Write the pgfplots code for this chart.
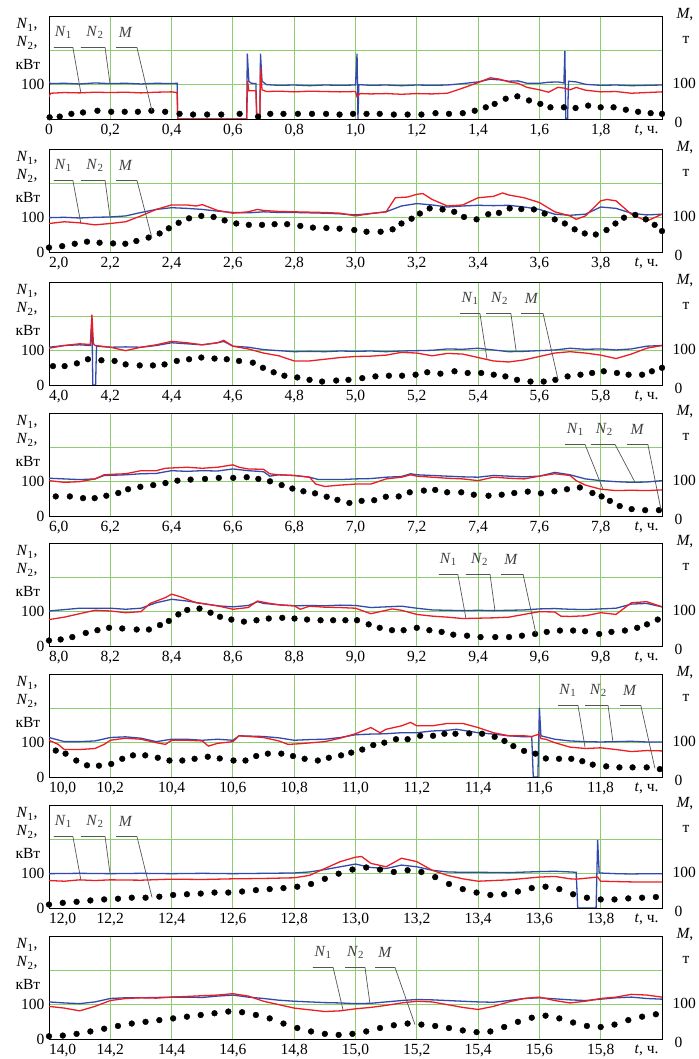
\documentclass[border=0pt]{standalone}
\usepackage{fontspec}
\setmainfont{Liberation Serif}
\usepackage{pgfplots}
\pgfplotsset{compat=1.18}
\definecolor{gridg}{RGB}{140,205,110}
\definecolor{nred}{RGB}{235,30,35}
\definecolor{nblue}{RGB}{50,75,170}
\definecolor{lead}{RGB}{85,85,85}
\newcommand\fs{\fontsize{15.5}{18}\selectfont}
\pgfplotsset{
 panel/.style={
  width=613pt,height=103pt,scale only axis,
  ymin=0,ymax=300,ytick={0,100,200},yticklabels={0,100,{}},
  grid=major, major grid style={gridg,line width=0.9pt},
  major tick length=0pt,
  axis line style={line width=0.8pt},
  tick label style={font=\fs},
  yticklabel style={xshift=-1pt},
  xticklabel style={yshift=-2pt},
  anchor=south west, clip mode=individual,
 },
 n1/.style={nred,line width=1.3pt},
 n2/.style={nblue,line width=1.3pt},
 mm/.style={only marks,mark=*,mark size=2.9pt,black},
}
\newcommand\sidetext{%
 \node[anchor=west,font=\fs,xshift=-36pt,yshift=-9pt] at (rel axis cs:0,1) {\textit{N}\textsubscript{1},};
 \node[anchor=west,font=\fs,xshift=-36pt,yshift=-27pt] at (rel axis cs:0,1) {\textit{N}\textsubscript{2},};
 \node[anchor=west,font=\fs,xshift=-37pt,yshift=-48pt] at (rel axis cs:0,1) {кВт};
 \node[anchor=west,font=\fs,xshift=11pt,yshift=1pt] at (rel axis cs:1,1) {\textit{M},};
 \node[anchor=west,font=\fs,xshift=17pt,yshift=-24pt] at (rel axis cs:1,1) {т};
 \node[anchor=west,font=\fs,xshift=7pt,yshift=1pt] at (rel axis cs:1,0.3333) {100};
 \node[anchor=west,font=\fs,xshift=9pt,yshift=-3pt] at (rel axis cs:1,0) {0};
 \node[anchor=north east,font=\fs,xshift=0pt,yshift=-2pt] at (rel axis cs:1,0) {\textit{t}, ч.};
}
% #1 hstart #2 hend #3 endx #4 endy #5 text x #6 label
\newcommand\callout[6]{%
 \draw[lead,line width=0.7pt] (axis cs:#1,208) -- (axis cs:#2,208) -- (axis cs:#3,#4);
 \node[font=\fs,text=black!75] at (axis cs:#5,252) {#6};
}
\begin{document}
\begin{tikzpicture}
\path[use as bounding box] (0,0) rectangle (698pt,1059pt);

% ---------------- Panel 1 ----------------
\begin{axis}[panel, at={(49pt,940pt)}, xmin=0, xmax=2, yticklabels={{},100,{}},
 xtick={0,0.2,0.4,0.6,0.8,1.0,1.2,1.4,1.6,1.8},
 xticklabels={0,{0,2},{0,4},{0,6},{0,8},{1,0},{1,2},{1,4},{1,6},{1,8}}]
\addplot[n2] coordinates {(0,108)(0.005,103)(0.05,104)(0.1,102)(0.15,105)(0.2,103)(0.25,104)(0.3,102)(0.35,104)(0.4,103)(0.418,104)(0.42,0)(0.645,0)(0.647,190)(0.652,110)(0.66,104)(0.675,103)(0.678,0)(0.688,0)(0.69,190)(0.695,110)(0.71,100)(0.75,98)(0.8,99)(0.85,97)(0.9,99)(0.95,98)(1.0,99)(1.005,190)(1.008,0)(1.011,100)(1.05,98)(1.1,99)(1.15,97)(1.2,99)(1.25,98)(1.3,99)(1.35,103)(1.4,108)(1.44,116)(1.47,114)(1.5,110)(1.53,111)(1.56,104)(1.6,104)(1.63,107)(1.66,108)(1.68,105)(1.683,198)(1.686,0)(1.692,0)(1.695,110)(1.72,108)(1.75,101)(1.8,98)(1.85,99)(1.9,97)(1.95,98)(2.0,99)};
\addplot[n1] coordinates {(0,65)(0.005,75)(0.05,77)(0.1,76)(0.15,78)(0.2,77)(0.25,78)(0.3,76)(0.35,78)(0.4,79)(0.418,77)(0.42,0)(0.645,0)(0.648,110)(0.652,82)(0.665,82)(0.675,82)(0.678,0)(0.688,0)(0.69,150)(0.695,85)(0.71,80)(0.75,81)(0.8,79)(0.85,81)(0.9,80)(0.95,79)(1.0,80)(1.005,65)(1.015,74)(1.05,73)(1.1,74)(1.15,72)(1.2,74)(1.25,73)(1.3,75)(1.35,90)(1.4,106)(1.44,120)(1.47,116)(1.5,108)(1.53,104)(1.56,92)(1.6,85)(1.63,78)(1.66,92)(1.68,90)(1.7,85)(1.72,92)(1.75,84)(1.8,79)(1.85,80)(1.9,75)(1.95,77)(2.0,79)};
\addplot[mm] coordinates {(0.002,5)(0.035,7)(0.073,15)(0.111,19)(0.158,24)(0.203,21)(0.247,21)(0.29,21)(0.334,24)(0.379,21)(0.426,15)(0.47,13)(0.516,13)(0.562,13)(0.622,15)(0.682,7)(0.722,15)(0.765,15)(0.812,15)(0.858,15)(0.904,15)(0.948,13)(0.992,15)(1.036,15)(1.079,15)(1.125,13)(1.17,13)(1.215,13)(1.261,17)(1.305,15)(1.35,17)(1.389,24)(1.425,34)(1.454,44)(1.49,59)(1.528,66)(1.566,54)(1.603,44)(1.636,34)(1.68,34)(1.718,32)(1.759,39)(1.8,34)(1.842,34)(1.882,27)(1.922,21)(1.963,17)(2.0,15)};
\sidetext
\callout{0.016}{0.078}{0.104}{76}{0.047}{\textit{N}\textsubscript{1}}
\callout{0.104}{0.183}{0.199}{103}{0.150}{\textit{N}\textsubscript{2}}
\callout{0.219}{0.287}{0.336}{24}{0.250}{\textit{M}}
\end{axis}

% ---------------- Panel 2 ----------------
\begin{axis}[panel, at={(49pt,807pt)}, xmin=2, xmax=4,
 xtick={2,2.2,2.4,2.6,2.8,3.0,3.2,3.4,3.6,3.8},
 xticklabels={{\rlap{2,0}},{2,2},{2,4},{2,6},{2,8},{3,0},{3,2},{3,4},{3,6},{3,8}}]
\addplot[n2] coordinates {(2.0,100)(2.05,101)(2.1,99)(2.15,101)(2.2,102)(2.25,105)(2.3,115)(2.35,124)(2.4,129)(2.45,127)(2.5,124)(2.55,119)(2.6,115)(2.65,114)(2.7,117)(2.75,115)(2.8,115)(2.85,114)(2.9,113)(2.95,111)(3.0,108)(3.05,112)(3.1,117)(3.15,134)(3.2,141)(3.25,137)(3.3,131)(3.35,134)(3.4,136)(3.45,135)(3.5,136)(3.55,131)(3.6,124)(3.65,110)(3.7,107)(3.75,110)(3.8,131)(3.85,127)(3.9,113)(3.95,108)(4.0,110)};
\addplot[n1] coordinates {(2.0,83)(2.05,88)(2.1,85)(2.15,79)(2.2,83)(2.25,88)(2.3,105)(2.35,124)(2.4,137)(2.45,137)(2.48,134)(2.5,138)(2.55,121)(2.6,113)(2.65,117)(2.68,124)(2.7,121)(2.75,118)(2.8,117)(2.85,116)(2.9,115)(2.95,113)(3.0,105)(3.05,112)(3.1,117)(3.13,158)(3.17,160)(3.2,168)(3.22,170)(3.25,153)(3.3,134)(3.35,137)(3.4,158)(3.45,162)(3.48,172)(3.5,166)(3.55,158)(3.6,144)(3.65,117)(3.7,105)(3.72,95)(3.75,105)(3.8,149)(3.82,153)(3.85,149)(3.9,110)(3.95,90)(4.0,110)};
\addplot[mm] coordinates {(2.0,13)(2.043,17)(2.084,24)(2.124,30)(2.165,27)(2.209,25)(2.249,24)(2.285,32)(2.325,42)(2.361,54)(2.391,69)(2.423,85)(2.457,98)(2.497,105)(2.537,102)(2.573,92)(2.611,83)(2.652,79)(2.695,79)(2.736,81)(2.777,81)(2.82,76)(2.861,71)(2.905,70)(2.948,68)(2.996,64)(3.036,59)(3.082,59)(3.121,66)(3.15,83)(3.183,97)(3.21,112)(3.242,127)(3.284,124)(3.322,117)(3.354,102)(3.395,95)(3.433,110)(3.468,114)(3.503,127)(3.541,125)(3.582,124)(3.617,112)(3.65,95)(3.683,83)(3.715,66)(3.748,54)(3.784,51)(3.819,64)(3.848,83)(3.876,100)(3.913,108)(3.947,95)(3.976,79)(4.0,61)};
\sidetext
\callout{2.016}{2.078}{2.104}{83}{2.047}{\textit{N}\textsubscript{1}}
\callout{2.104}{2.183}{2.199}{102}{2.150}{\textit{N}\textsubscript{2}}
\callout{2.219}{2.287}{2.336}{40}{2.250}{\textit{M}}
\end{axis}

% ---------------- Panel 3 ----------------
\begin{axis}[panel, at={(49pt,674pt)}, xmin=4, xmax=6,
 xtick={4,4.2,4.4,4.6,4.8,5.0,5.2,5.4,5.6,5.8},
 xticklabels={{\rlap{4,0}},{4,2},{4,4},{4,6},{4,8},{5,0},{5,2},{5,4},{5,6},{5,8}}]
\addplot[n2] coordinates {(4.0,110)(4.05,115)(4.1,117)(4.135,115)(4.14,190)(4.143,0)(4.152,0)(4.155,113)(4.2,110)(4.25,111)(4.3,110)(4.35,115)(4.4,123)(4.45,120)(4.5,117)(4.55,123)(4.57,127)(4.6,113)(4.65,110)(4.7,103)(4.75,100)(4.8,97)(4.85,98)(4.9,97)(4.95,99)(5.0,98)(5.05,99)(5.1,97)(5.15,99)(5.2,100)(5.25,101)(5.3,105)(5.35,104)(5.4,107)(5.45,102)(5.5,97)(5.55,98)(5.6,100)(5.65,102)(5.7,107)(5.75,104)(5.8,105)(5.85,102)(5.9,105)(5.95,113)(6.0,115)};
\addplot[n1] coordinates {(4.0,107)(4.05,115)(4.1,120)(4.135,118)(4.14,205)(4.145,120)(4.15,115)(4.2,110)(4.25,100)(4.3,110)(4.35,117)(4.4,127)(4.45,123)(4.5,117)(4.55,123)(4.57,130)(4.6,113)(4.65,105)(4.7,93)(4.75,85)(4.8,70)(4.85,70)(4.9,75)(4.95,80)(5.0,83)(5.05,84)(5.1,87)(5.15,95)(5.2,93)(5.25,85)(5.3,92)(5.35,90)(5.4,80)(5.45,70)(5.5,67)(5.55,73)(5.6,83)(5.65,93)(5.7,97)(5.75,93)(5.8,87)(5.85,77)(5.9,90)(5.95,107)(6.0,115)};
\addplot[mm] coordinates {(4.013,55)(4.051,55)(4.091,63)(4.127,75)(4.171,72)(4.214,70)(4.25,60)(4.296,57)(4.339,57)(4.377,60)(4.417,70)(4.457,75)(4.497,80)(4.54,77)(4.58,75)(4.62,70)(4.665,65)(4.698,50)(4.733,37)(4.768,27)(4.81,22)(4.85,15)(4.891,10)(4.937,13)(4.977,15)(5.022,20)(5.065,25)(5.109,27)(5.152,27)(5.196,30)(5.234,37)(5.277,33)(5.323,40)(5.366,35)(5.41,35)(5.451,30)(5.489,25)(5.527,15)(5.571,10)(5.614,10)(5.652,15)(5.692,25)(5.734,30)(5.772,35)(5.81,40)(5.853,35)(5.891,30)(5.935,30)(5.967,40)(6.0,50)};
\sidetext
\callout{5.341}{5.406}{5.429}{75}{5.374}{\textit{N}\textsubscript{1}}
\callout{5.426}{5.507}{5.524}{100}{5.470}{\textit{N}\textsubscript{2}}
\callout{5.540}{5.612}{5.661}{15}{5.575}{\textit{M}}
\end{axis}

% ---------------- Panel 4 ----------------
\begin{axis}[panel, at={(49pt,543pt)}, xmin=6, xmax=8,
 xtick={6,6.2,6.4,6.6,6.8,7.0,7.2,7.4,7.6,7.8},
 xticklabels={{\rlap{6,0}},{6,2},{6,4},{6,6},{6,8},{7,0},{7,2},{7,4},{7,6},{7,8}}]
\addplot[n2] coordinates {(6.0,110)(6.05,108)(6.1,106)(6.15,108)(6.18,118)(6.22,119)(6.25,120)(6.3,123)(6.35,124)(6.4,132)(6.45,130)(6.5,132)(6.55,131)(6.6,137)(6.65,132)(6.7,129)(6.72,116)(6.75,120)(6.8,118)(6.85,113)(6.88,106)(6.95,106)(7.0,108)(7.05,109)(7.1,113)(7.15,115)(7.18,123)(7.2,120)(7.25,118)(7.3,116)(7.35,114)(7.4,113)(7.45,118)(7.5,116)(7.55,114)(7.6,116)(7.65,127)(7.7,120)(7.75,108)(7.8,103)(7.85,100)(7.9,98)(7.95,99)(8.0,103)};
\addplot[n1] coordinates {(6.0,103)(6.05,98)(6.1,100)(6.15,108)(6.18,120)(6.22,122)(6.25,123)(6.3,132)(6.35,132)(6.38,139)(6.45,142)(6.5,139)(6.55,142)(6.6,149)(6.62,142)(6.65,137)(6.7,136)(6.72,123)(6.75,120)(6.8,118)(6.85,113)(6.87,93)(6.9,86)(6.95,90)(7.0,93)(7.05,93)(7.1,108)(7.15,113)(7.18,120)(7.2,116)(7.25,113)(7.3,110)(7.35,108)(7.4,103)(7.45,113)(7.5,110)(7.55,108)(7.6,116)(7.65,123)(7.7,118)(7.72,103)(7.75,90)(7.8,78)(7.85,74)(7.9,75)(7.95,74)(8.0,76)};
\addplot[mm] coordinates {(6.022,57)(6.068,57)(6.111,52)(6.149,52)(6.187,59)(6.226,67)(6.258,78)(6.298,85)(6.34,90)(6.38,96)(6.419,103)(6.462,106)(6.509,108)(6.554,111)(6.601,111)(6.645,113)(6.683,108)(6.721,101)(6.759,90)(6.794,80)(6.83,72)(6.868,66)(6.906,56)(6.941,47)(6.98,38)(7.02,44)(7.061,46)(7.099,56)(7.141,57)(7.177,69)(7.223,74)(7.26,76)(7.299,69)(7.345,69)(7.386,62)(7.434,59)(7.477,62)(7.518,67)(7.562,71)(7.605,66)(7.649,72)(7.69,78)(7.732,83)(7.773,67)(7.803,57)(7.83,44)(7.862,29)(7.901,20)(7.945,17)(7.99,17)};
\sidetext
\callout{7.684}{7.749}{7.808}{77}{7.717}{\textit{N}\textsubscript{1}}
\callout{7.768}{7.847}{7.912}{98}{7.812}{\textit{N}\textsubscript{2}}
\callout{7.886}{7.954}{7.997}{17}{7.920}{\textit{M}}
\end{axis}

% ---------------- Panel 5 ----------------
\begin{axis}[panel, at={(49pt,413pt)}, xmin=8, xmax=10,
 xtick={8,8.2,8.4,8.6,8.8,9.0,9.2,9.4,9.6,9.8},
 xticklabels={{\rlap{8,0}},{8,2},{8,4},{8,6},{8,8},{9,0},{9,2},{9,4},{9,6},{9,8}}]
\addplot[n2] coordinates {(8.0,102)(8.05,106)(8.1,110)(8.15,110)(8.2,110)(8.25,107)(8.3,110)(8.35,126)(8.4,136)(8.45,131)(8.5,124)(8.55,117)(8.6,114)(8.65,118)(8.68,129)(8.7,124)(8.75,120)(8.8,117)(8.85,118)(8.9,117)(8.95,119)(9.0,118)(9.05,112)(9.1,114)(9.15,116)(9.2,110)(9.25,105)(9.3,104)(9.35,103)(9.4,104)(9.45,103)(9.5,104)(9.55,105)(9.6,108)(9.65,109)(9.7,107)(9.75,106)(9.8,108)(9.85,110)(9.9,122)(9.95,124)(10.0,114)};
\addplot[n1] coordinates {(8.0,77)(8.05,84)(8.1,94)(8.15,104)(8.2,102)(8.25,97)(8.3,100)(8.33,124)(8.38,141)(8.4,151)(8.43,143)(8.48,126)(8.55,117)(8.6,107)(8.65,112)(8.68,131)(8.72,124)(8.75,120)(8.8,117)(8.82,107)(8.85,116)(8.9,113)(8.95,112)(9.0,110)(9.05,94)(9.1,104)(9.12,108)(9.15,104)(9.2,92)(9.25,87)(9.3,84)(9.35,80)(9.4,81)(9.45,82)(9.5,84)(9.55,92)(9.6,100)(9.65,99)(9.67,87)(9.7,86)(9.75,88)(9.8,97)(9.85,92)(9.9,126)(9.95,129)(10.0,114)};
\addplot[mm] coordinates {(8.0,16)(8.038,19)(8.076,26)(8.12,38)(8.158,46)(8.196,53)(8.239,51)(8.286,48)(8.326,48)(8.362,61)(8.391,73)(8.422,92)(8.451,105)(8.491,109)(8.527,97)(8.558,85)(8.595,77)(8.636,71)(8.677,75)(8.717,80)(8.761,82)(8.801,80)(8.842,77)(8.886,75)(8.927,75)(8.967,75)(9.005,75)(9.043,63)(9.079,53)(9.119,46)(9.157,46)(9.2,53)(9.241,46)(9.281,41)(9.319,33)(9.364,30)(9.408,26)(9.456,26)(9.501,26)(9.543,30)(9.586,35)(9.624,41)(9.667,45)(9.71,45)(9.749,43)(9.795,35)(9.835,41)(9.879,45)(9.919,53)(9.951,63)(9.986,77)};
\sidetext
\callout{9.272}{9.334}{9.360}{82}{9.303}{\textit{N}\textsubscript{1}}
\callout{9.360}{9.439}{9.455}{103}{9.405}{\textit{N}\textsubscript{2}}
\callout{9.475}{9.547}{9.589}{35}{9.508}{\textit{M}}
\end{axis}

% ---------------- Panel 6 ----------------
\begin{axis}[panel, at={(49pt,282pt)}, xmin=10, xmax=12,
 xtick={10,10.2,10.4,10.6,10.8,11.0,11.2,11.4,11.6,11.8},
 xticklabels={{\rlap{10,0}},{10,2},{10,4},{10,6},{10,8},{11,0},{11,2},{11,4},{11,6},{11,8}}]
\addplot[n2] coordinates {(10.0,115)(10.05,103)(10.1,103)(10.15,105)(10.2,115)(10.25,117)(10.3,113)(10.35,103)(10.4,110)(10.45,110)(10.5,107)(10.55,110)(10.6,107)(10.62,120)(10.7,118)(10.75,114)(10.8,107)(10.85,109)(10.9,110)(10.95,115)(11.0,123)(11.05,125)(11.1,126)(11.15,129)(11.2,129)(11.25,134)(11.3,136)(11.33,139)(11.35,136)(11.4,129)(11.45,125)(11.5,120)(11.55,117)(11.575,117)(11.58,0)(11.595,0)(11.6,201)(11.605,120)(11.65,110)(11.7,105)(11.75,103)(11.8,102)(11.85,103)(11.9,104)(11.95,102)(12.0,102)};
\addplot[n1] coordinates {(10.0,107)(10.03,95)(10.05,80)(10.1,80)(10.15,83)(10.18,95)(10.2,107)(10.25,113)(10.3,110)(10.35,100)(10.38,95)(10.4,107)(10.45,107)(10.5,105)(10.52,90)(10.55,98)(10.6,103)(10.62,120)(10.7,115)(10.75,105)(10.78,95)(10.82,97)(10.9,103)(10.95,113)(11.0,126)(11.05,144)(11.08,129)(11.1,139)(11.15,149)(11.18,159)(11.2,149)(11.25,149)(11.3,156)(11.35,156)(11.4,144)(11.45,129)(11.5,120)(11.55,120)(11.575,118)(11.6,125)(11.605,112)(11.62,110)(11.65,100)(11.7,87)(11.75,83)(11.8,85)(11.85,80)(11.9,74)(11.95,77)(12.0,76)};
\addplot[mm] coordinates {(10.022,77)(10.054,68)(10.089,48)(10.124,34)(10.163,33)(10.203,38)(10.239,53)(10.274,63)(10.314,63)(10.355,56)(10.393,48)(10.435,48)(10.475,53)(10.518,59)(10.557,54)(10.602,48)(10.641,48)(10.676,61)(10.714,68)(10.758,68)(10.796,61)(10.834,53)(10.877,48)(10.913,56)(10.953,63)(10.986,71)(11.022,80)(11.058,93)(11.094,100)(11.132,110)(11.17,110)(11.211,120)(11.253,120)(11.29,126)(11.326,126)(11.371,127)(11.413,126)(11.454,117)(11.486,105)(11.515,90)(11.55,76)(11.587,68)(11.621,54)(11.664,53)(11.704,53)(11.74,46)(11.774,36)(11.818,31)(11.861,28)(11.904,28)(11.95,28)(11.993,23)};
\sidetext
\callout{11.661}{11.726}{11.749}{86}{11.693}{\textit{N}\textsubscript{1}}
\callout{11.749}{11.824}{11.840}{102}{11.792}{\textit{N}\textsubscript{2}}
\callout{11.863}{11.931}{11.977}{25}{11.895}{\textit{M}}
\end{axis}

% ---------------- Panel 7 ----------------
\begin{axis}[panel, at={(49pt,151pt)}, xmin=12, xmax=14,
 xtick={12,12.2,12.4,12.6,12.8,13.0,13.2,13.4,13.6,13.8},
 xticklabels={{\rlap{12,0}},{12,2},{12,4},{12,6},{12,8},{13,0},{13,2},{13,4},{13,6},{13,8}}]
\addplot[n2] coordinates {(12.0,100)(12.1,101)(12.2,100)(12.3,101)(12.4,100)(12.5,101)(12.6,100)(12.7,101)(12.8,102)(12.85,105)(12.9,112)(12.95,120)(13.0,128)(13.05,118)(13.1,115)(13.15,125)(13.2,120)(13.25,110)(13.3,105)(13.35,104)(13.4,104)(13.5,103)(13.6,106)(13.65,107)(13.7,105)(13.72,104)(13.725,0)(13.785,0)(13.79,198)(13.795,102)(13.85,100)(13.9,99)(13.95,100)(14.0,100)};
\addplot[n1] coordinates {(12.0,80)(12.05,78)(12.1,82)(12.15,80)(12.2,82)(12.3,81)(12.4,84)(12.5,83)(12.6,85)(12.7,86)(12.8,88)(12.85,95)(12.9,115)(12.95,135)(13.0,148)(13.02,150)(13.05,130)(13.1,120)(13.15,145)(13.2,135)(13.25,110)(13.3,95)(13.35,85)(13.4,78)(13.5,82)(13.6,90)(13.65,92)(13.7,85)(13.72,84)(13.79,90)(13.8,78)(13.9,76)(14.0,76)};
\addplot[mm] coordinates {(12.0,10)(12.045,15)(12.09,18)(12.135,22)(12.18,25)(12.225,27)(12.27,30)(12.315,30)(12.36,33)(12.405,38)(12.45,40)(12.495,42)(12.54,45)(12.585,45)(12.63,48)(12.675,52)(12.72,55)(12.765,58)(12.81,62)(12.855,70)(12.9,85)(12.945,100)(12.99,112)(13.035,118)(13.08,112)(13.125,105)(13.17,110)(13.215,105)(13.26,90)(13.305,70)(13.35,55)(13.395,45)(13.44,38)(13.485,40)(13.53,48)(13.575,58)(13.62,62)(13.665,55)(13.71,40)(13.755,30)(13.8,25)(13.845,25)(13.89,28)(13.935,30)(13.98,32)};
\sidetext
\callout{12.016}{12.078}{12.104}{82}{12.047}{\textit{N}\textsubscript{1}}
\callout{12.104}{12.183}{12.199}{101}{12.150}{\textit{N}\textsubscript{2}}
\callout{12.219}{12.287}{12.336}{31}{12.250}{\textit{M}}
\end{axis}

% ---------------- Panel 8 ----------------
\begin{axis}[panel, at={(49pt,20pt)}, xmin=14, xmax=16,
 xtick={14,14.2,14.4,14.6,14.8,15.0,15.2,15.4,15.6,15.8},
 xticklabels={{\rlap{14,0}},{14,2},{14,4},{14,6},{14,8},{15,0},{15,2},{15,4},{15,6},{15,8}}]
\addplot[n2] coordinates {(14.0,108)(14.05,105)(14.1,103)(14.15,108)(14.2,118)(14.25,120)(14.3,120)(14.35,121)(14.4,122)(14.45,122)(14.5,121)(14.55,125)(14.6,128)(14.65,122)(14.7,118)(14.75,113)(14.8,110)(14.85,108)(14.9,106)(14.95,105)(15.0,103)(15.05,104)(15.1,108)(15.15,112)(15.2,115)(15.25,114)(15.3,112)(15.35,110)(15.4,108)(15.45,107)(15.5,112)(15.55,118)(15.6,120)(15.65,117)(15.7,114)(15.75,112)(15.8,116)(15.85,120)(15.9,122)(15.95,118)(16.0,116)};
\addplot[n1] coordinates {(14.0,95)(14.05,90)(14.1,82)(14.15,95)(14.2,112)(14.25,118)(14.3,120)(14.35,119)(14.4,122)(14.45,124)(14.5,126)(14.55,128)(14.6,132)(14.65,125)(14.7,110)(14.75,100)(14.8,90)(14.85,85)(14.9,80)(14.95,82)(15.0,88)(15.05,92)(15.1,98)(15.15,105)(15.2,110)(15.25,108)(15.3,100)(15.35,92)(15.4,86)(15.45,95)(15.5,108)(15.55,118)(15.6,122)(15.65,112)(15.7,105)(15.75,110)(15.8,118)(15.85,122)(15.9,130)(15.95,128)(16.0,122)};
\addplot[mm] coordinates {(14.0,8)(14.045,10)(14.09,15)(14.135,22)(14.18,30)(14.225,38)(14.27,45)(14.315,50)(14.36,55)(14.405,60)(14.45,65)(14.495,70)(14.54,75)(14.585,80)(14.63,78)(14.675,70)(14.72,60)(14.765,45)(14.81,32)(14.855,22)(14.9,15)(14.945,12)(14.99,15)(15.035,22)(15.08,32)(15.125,40)(15.17,45)(15.215,42)(15.26,38)(15.305,32)(15.35,25)(15.395,20)(15.44,22)(15.485,35)(15.53,50)(15.575,62)(15.62,68)(15.665,60)(15.71,48)(15.755,38)(15.8,35)(15.845,42)(15.89,55)(15.935,65)(15.98,72)};
\sidetext
\callout{14.861}{14.927}{14.960}{82}{14.894}{\textit{N}\textsubscript{1}}
\callout{14.966}{15.031}{15.047}{104}{15.000}{\textit{N}\textsubscript{2}}
\callout{15.064}{15.129}{15.194}{42}{15.097}{\textit{M}}
\end{axis}
\end{tikzpicture}
\end{document}
